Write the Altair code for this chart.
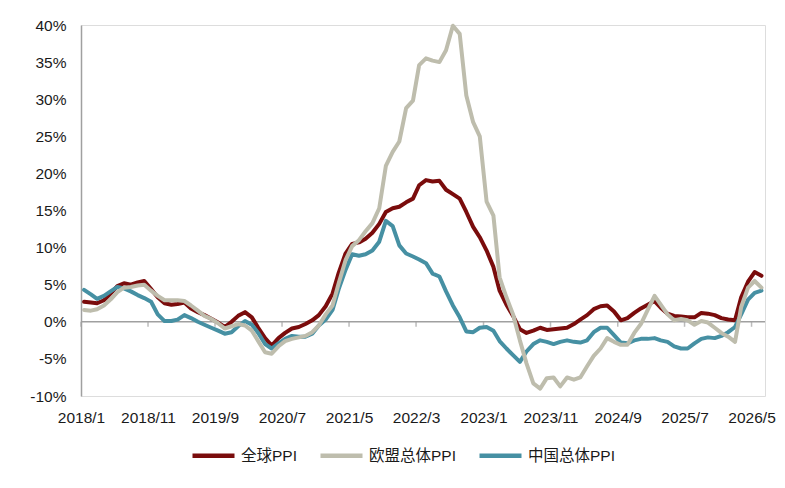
import altair as alt
import pandas as pd

# ---- data, monthly 2018/1 .. 2026/6 ----
series_names = ["全球PPI", "欧盟总体PPI", "中国总体PPI"]
series_colors = ["#7A0C0C", "#BEBDAD", "#4690A3"]

global_ppi = [
    2.7, 2.6, 2.5, 2.9, 3.8, 4.8, 5.2, 5.0, 5.3, 5.5,
    4.4, 3.3, 2.5, 2.3, 2.4, 2.6, 1.8, 1.3, 0.9, 0.4,
    -0.1, -0.7, 0.0, 0.8, 1.3, 0.6, -0.8, -2.2, -3.2, -2.2,
    -1.5, -0.9, -0.7, -0.3, 0.2, 0.9, 2.1, 3.8, 6.6, 9.2,
    10.5, 10.7, 11.2, 12.0, 13.2, 14.8, 15.3, 15.5, 16.1, 16.6,
    18.4, 19.1, 18.9, 19.0, 17.8, 17.2, 16.6, 14.8, 12.8, 11.4,
    9.6, 7.4, 4.2, 2.3, 0.8, -1.0, -1.5, -1.2, -0.8, -1.1,
    -1.0, -0.9, -0.8, -0.3, 0.3, 0.9, 1.7, 2.1, 2.2, 1.4,
    0.2, 0.5, 1.2, 1.8, 2.3, 2.8, 1.9, 1.1, 0.8, 0.7,
    0.6, 0.6, 1.2, 1.1, 0.9, 0.5, 0.3, 0.2, 3.3, 5.4,
    6.7, 6.2,
]

eu_ppi = [
    1.6, 1.5, 1.7, 2.2, 3.0, 4.0, 4.6, 4.7, 4.9, 5.0,
    4.2, 3.5, 2.9, 2.9, 2.9, 2.8, 2.2, 1.5, 0.8, 0.4,
    -0.2, -0.9, -0.6, -0.3, -0.5, -1.2, -2.6, -4.1, -4.3, -3.3,
    -2.6, -2.3, -2.1, -1.9, -1.4, -0.5, 1.0, 2.2, 5.2, 8.3,
    10.2, 11.0, 12.2, 13.3, 15.3, 21.0, 22.9, 24.3, 28.8, 29.8,
    34.6, 35.5, 35.2, 35.0, 36.6, 39.9, 38.8, 30.5, 26.9, 25.0,
    16.2, 14.3, 6.0, 3.3, 1.0, -2.5, -5.6, -8.3, -9.0, -7.6,
    -7.5, -8.7, -7.5, -7.8, -7.5, -6.0, -4.6, -3.6, -2.2, -2.7,
    -3.1, -3.1, -1.5, -0.3, 1.6, 3.5, 2.3, 1.0, 0.2, 0.4,
    0.2, -0.4, 0.1, -0.1, -0.8, -1.5, -2.0, -2.7, 2.0, 4.6,
    5.5, 4.6,
]

china_ppi = [
    4.3, 3.7, 3.1, 3.5, 4.1, 4.7, 4.5, 4.1, 3.6, 3.2,
    2.7, 1.0, 0.1, 0.1, 0.3, 0.9, 0.5, 0.0, -0.4, -0.8,
    -1.2, -1.6, -1.4, -0.6, 0.1, -0.4, -1.5, -3.0, -3.6, -2.9,
    -2.3, -1.9, -2.0, -2.0, -1.6, -0.5, 0.3, 1.6, 4.4, 7.0,
    9.1, 8.9, 9.1, 9.6, 10.8, 13.6, 12.9, 10.3, 9.2, 8.8,
    8.4, 7.9, 6.5, 6.1, 4.1, 2.2, 0.6, -1.3, -1.4, -0.8,
    -0.7, -1.2, -2.6, -3.6, -4.5, -5.4, -4.0, -3.0, -2.5, -2.7,
    -3.0, -2.7, -2.5, -2.7, -2.8, -2.5, -1.4, -0.8, -0.8, -1.8,
    -2.8, -2.9, -2.5, -2.3, -2.3, -2.2, -2.5, -2.7, -3.3, -3.6,
    -3.6, -2.9, -2.3, -2.1, -2.2, -1.9, -1.4, -0.7, 1.0, 3.0,
    3.9, 4.2,
]

tick_labels = ["2018/1", "2018/11", "2019/9", "2020/7", "2021/5", "2022/3",
               "2023/1", "2023/11", "2024/9", "2025/7", "2026/5"]
y_ticks = [-10, -5, 0, 5, 10, 15, 20, 25, 30, 35, 40]

# ---- tables ----
dates = []
y, m = 2018, 1
for _ in range(len(global_ppi)):
    dates.append(f"{y}-{m:02d}-15")
    m += 1
    if m > 12:
        m, y = 1, y + 1

rows = []
for name, vals in zip(series_names, [global_ppi, eu_ppi, china_ppi]):
    for d, v in zip(dates, vals):
        rows.append({"date": d, "series": name, "value": v})
df = pd.DataFrame(rows)


def to_dt(lbl):
    yy, mm = lbl.split("/")
    return alt.DateTime(year=int(yy), month=int(mm), date=1, utc=True)


tick_dt = [to_dt(t) for t in tick_labels]
tick_df = pd.DataFrame({
    "date": [f"{t.split('/')[0]}-{int(t.split('/')[1]):02d}-01" for t in tick_labels],
    "value": [0] * len(tick_labels),
})
zero_df = pd.DataFrame({"value": [0]})

FONT = "Liberation Sans, Arial, Noto Sans CJK SC, sans-serif"
AXIS_GREY = "#A0A0A0"
TEXT = "#1a1a1a"

x_scale = alt.Scale(type="utc",
                    domain=[alt.DateTime(year=2018, month=1, date=1, utc=True),
                            alt.DateTime(year=2026, month=7, date=1, utc=True)])
y_scale = alt.Scale(domain=[-10, 40], nice=False, zero=False)

x_axis = alt.Axis(values=tick_dt, labelExpr="utcFormat(datum.value, '%Y/%-m')",
                  domain=False, ticks=False, grid=False, title=None,
                  labelFontSize=15.5, labelFont=FONT, labelColor=TEXT,
                  labelPadding=14, labelOverlap=False, labelFlush=False)
y_axis = alt.Axis(values=y_ticks, tickCount=11, labelExpr="datum.value + '%'",
                  ticks=False, grid=False, title=None,
                  domainColor=AXIS_GREY, domainWidth=1.5,
                  labelFontSize=15.5, labelFont=FONT, labelColor=TEXT,
                  labelPadding=15, labelOverlap=False, labelFlush=False)

x_enc = alt.X("date:T", scale=x_scale, axis=x_axis)
y_enc = alt.Y("value:Q", scale=y_scale, axis=y_axis)

color_enc = alt.Color("series:N",
                      scale=alt.Scale(domain=series_names, range=series_colors),
                      legend=alt.Legend(title=None, orient="none", direction="horizontal",
                                        legendX=109, legendY=407,
                                        symbolType="stroke", symbolSize=1764,
                                        symbolStrokeWidth=4.5, labelFontSize=15.5,
                                        labelFont=FONT, labelColor=TEXT,
                                        labelOffset=4, columnPadding=14))

base = alt.Chart(df)


def series_layer(name):
    return base.transform_filter(alt.datum.series == name).mark_line(
        strokeWidth=4, strokeCap="round", strokeJoin="round"
    ).encode(x=x_enc, y=y_enc, color=color_enc)


zero_rule = alt.Chart(zero_df).mark_rule(color=AXIS_GREY, strokeWidth=1.5).encode(y=y_enc)
ticks = alt.Chart(tick_df).mark_tick(orient="vertical", size=5, thickness=1.5,
                                     yOffset=2.5, color=AXIS_GREY).encode(
    x=x_enc, y=y_enc)

chart = alt.layer(
    zero_rule,
    ticks,
    series_layer("全球PPI"),
    series_layer("中国总体PPI"),
    series_layer("欧盟总体PPI"),
).properties(
    width=684, height=371,
    autosize=alt.AutoSizeParams(type="none"),
    padding={"left": 73, "top": 17, "right": 12, "bottom": 80},
).configure_view(strokeWidth=0).configure(background="white")

chart.save("out.html", embed_options={"renderer": "svg", "actions": False})
